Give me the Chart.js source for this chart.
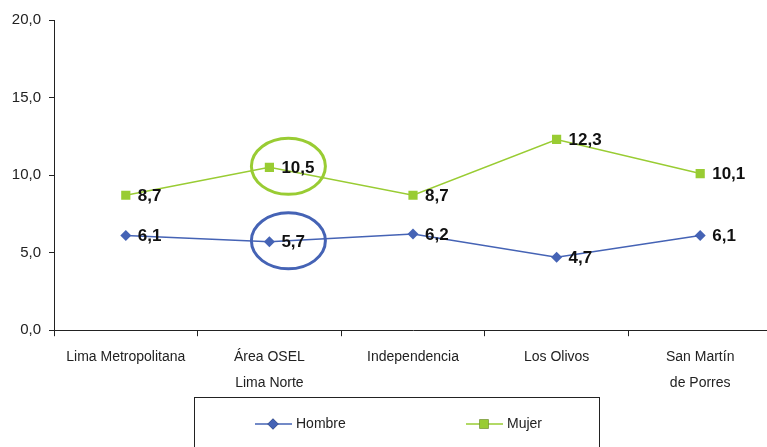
<!DOCTYPE html>
<html lang="es">
<head>
<meta charset="UTF-8">
<title>Hombre / Mujer</title>
<script src="https://cdn.jsdelivr.net/npm/chart.js@4.4.0/dist/chart.umd.min.js"></script>
<style>
  html, body { margin: 0; padding: 0; background: #fff; overflow: hidden; }
  #wrap { position: relative; width: 780px; height: 447px; }
</style>
</head>
<body>
<div id="wrap"><canvas id="chart"></canvas></div>

<script>
const categories = [
  'Lima Metropolitana',
  ['Área OSEL', 'Lima Norte'],
  'Independencia',
  'Los Olivos',
  ['San Martín', 'de Porres']
];
const hombre = [6.1, 5.7, 6.2, 4.7, 6.1];
const mujer = [8.7, 10.5, 8.7, 12.3, 10.1];
const yTicks = [0, 5, 10, 15, 20];
const highlighted = 1; // Área OSEL Lima Norte

const BLUE = '#4563b5';
const GREEN = '#99cc33';
const FONT = 'Liberation Sans, Arial, sans-serif';

const fmt = v => v.toFixed(1).replace('.', ',');

// value labels to the right of each point + ellipses on the highlighted category
const labelPlugin = {
  id: 'labels',
  afterDatasetsDraw(chart) {
    const ctx = chart.ctx;
    ctx.save();
    ctx.font = 'bold 17px ' + FONT;
    ctx.fillStyle = '#111';
    ctx.textBaseline = 'middle';
    chart.data.datasets.forEach((ds, di) => {
      const meta = chart.getDatasetMeta(di);
      meta.data.forEach((pt, i) => {
        ctx.fillText(fmt(ds.data[i]), pt.x + 12, pt.y + 1);
      });
      const p = meta.data[highlighted];
      ctx.beginPath();
      ctx.ellipse(p.x + 19, p.y - 1, 37, 28, 0, 0, Math.PI * 2);
      ctx.lineWidth = 3;
      ctx.strokeStyle = ds.borderColor;
      ctx.stroke();
    });
    ctx.restore();
  }
};

// boxed legend below the axis
const legendPlugin = {
  id: 'boxLegend',
  afterDraw(chart) {
    const ctx = chart.ctx;
    ctx.save();
    ctx.strokeStyle = '#222';
    ctx.lineWidth = 1;
    ctx.strokeRect(194.5, 397.5, 405, 60);
    const slots = [255, 466];
    chart.data.datasets.forEach((ds, di) => {
      const x = slots[di], y = 424;
      ctx.beginPath();
      ctx.moveTo(x, y);
      ctx.lineTo(x + 37, y);
      ctx.strokeStyle = ds.borderColor;
      ctx.lineWidth = 1.5;
      ctx.stroke();
      Chart.helpers.drawPoint(ctx, {
        pointStyle: ds.pointStyle, radius: ds.pointRadius, rotation: 0, borderWidth: 0
      }, x + 18, y);
      ctx.fillStyle = ds.backgroundColor;
      ctx.fill();
      ctx.fillStyle = '#222';
      ctx.font = '14px ' + FONT;
      ctx.textBaseline = 'middle';
      ctx.fillText(ds.label, x + 41, y);
    });
    ctx.restore();
  }
};

new Chart(document.getElementById('chart'), {
  type: 'line',
  data: {
    labels: categories,
    datasets: [
      {
        label: 'Hombre',
        data: hombre,
        borderColor: BLUE,
        backgroundColor: BLUE,
        borderWidth: 1.5,
        pointStyle: 'rectRot',
        pointRadius: 5.5,
        pointBorderWidth: 0
      },
      {
        label: 'Mujer',
        data: mujer,
        borderColor: GREEN,
        backgroundColor: GREEN,
        borderWidth: 1.5,
        pointStyle: 'rect',
        pointRadius: 6.5,
        pointBorderWidth: 0
      }
    ]
  },
  options: {
    responsive: true,
    maintainAspectRatio: false,
    animation: false,
    layout: { padding: { top: 20, right: 8, bottom: 43, left: 0 } },
    plugins: {
      legend: { display: false },
      tooltip: { enabled: false }
    },
    scales: {
      x: {
        offset: true,
        grid: { offset: true, drawOnChartArea: false, tickLength: 6, color: '#222' },
        border: { color: '#222', width: 1 },
        ticks: { color: '#222', font: { family: FONT, size: 14, lineHeight: 1.85 }, padding: 8, maxRotation: 0, autoSkip: false }
      },
      y: {
        min: 0,
        max: 20,
        afterBuildTicks: s => { s.ticks = yTicks.map(v => ({ value: v })); },
        afterFit: s => { s.width = 54; },
        grid: { drawOnChartArea: false, tickLength: 5, color: '#222' },
        border: { color: '#222', width: 1 },
        ticks: { color: '#222', font: { family: FONT, size: 15 }, padding: 8, callback: v => fmt(v) }
      }
    }
  },
  plugins: [labelPlugin, legendPlugin]
});
</script>
</body>
</html>
